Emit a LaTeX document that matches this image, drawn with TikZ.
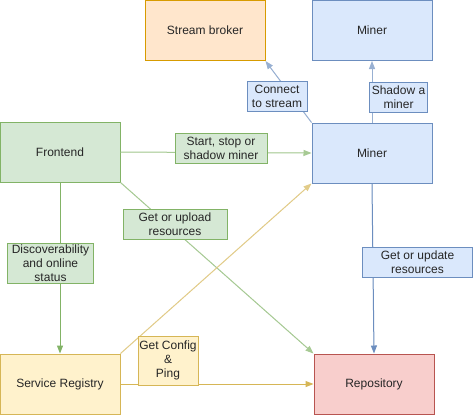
\documentclass[tikz,border=0pt]{standalone}
\usepackage{fontspec}
\setmainfont{Liberation Sans}
\usetikzlibrary{arrows.meta}
\definecolor{gfill}{HTML}{D5E8D4}\definecolor{gdraw}{HTML}{82B366}
\definecolor{bfill}{HTML}{DAE8FC}\definecolor{bdraw}{HTML}{6C8EBF}
\definecolor{ofill}{HTML}{FFE6CC}\definecolor{odraw}{HTML}{D79B00}
\definecolor{yfill}{HTML}{FFF2CC}\definecolor{ydraw}{HTML}{D6B656}
\definecolor{rfill}{HTML}{F8CECC}\definecolor{rdraw}{HTML}{B85450}
\begin{document}
\begin{tikzpicture}[x=0.75pt,y=-0.75pt,
  font=\fontsize{9pt}{10.5pt}\selectfont,
  box/.style={rectangle,minimum width=90pt,minimum height=45pt,line width=0.75pt,inner sep=0pt,text=black!85},
  lbl/.style={rectangle,line width=0.75pt,inner sep=0pt,align=center,text=black!85},
  conn/.style={line width=0.75pt,-{Triangle[length=6pt,width=4.5pt]}},
  gbox/.style={fill=gfill,draw=gdraw},
  bbox/.style={fill=bfill,draw=bdraw},
  obox/.style={fill=ofill,draw=odraw},
  ybox/.style={fill=yfill,draw=ydraw},
  rbox/.style={fill=rfill,draw=rdraw}]
\useasboundingbox (0,0) rectangle (474,415);
\fill[white] (0,0) rectangle (474,415);
% boxes
\node[box,obox] (sb) at (205,30.5) {Stream broker};
\node[box,bbox] (mt) at (372,30.5) {Miner};
\node[box,gbox] (fe) at (60,152) {Frontend};
\node[box,bbox] (mm) at (372,153) {Miner};
\node[box,ybox] (sr) at (60,384) {Service Registry};
\node[box,rbox] (rp) at (374,384) {Repository};
% connectors
\draw[conn,draw=bdraw!70,fill=bdraw] (mm.north west) -- (sb.south east);
\draw[conn,draw=bdraw!70,fill=bdraw] (mm.north) -- (mt.south);
\draw[conn,draw=gdraw!70,fill=gdraw] (fe.east) -- (mm.west);
\draw[conn,draw=gdraw!70,fill=gdraw] (fe.south east) -- (rp.north west);
\draw[conn,draw=gdraw,fill=gdraw] (fe.south) -- (sr.north);
\draw[conn,draw=ydraw!70,fill=ydraw] (sr.north east) -- (mm.south west);
\draw[conn,draw=ydraw,fill=ydraw] (sr.east) -- (rp.west);
\draw[conn,draw=bdraw,fill=bdraw] (mm.south) -- (rp.north);
% labels
\node[lbl,bbox,minimum width=45pt,minimum height=22.5pt] (l1) at (277,96) {Connect\\to stream};
\node[lbl,bbox,minimum width=44pt,minimum height=22.5pt] (l2) at (398.5,97) {Shadow a\\miner};
\node[lbl,gbox,minimum width=69pt,minimum height=22.5pt] (l3) at (221,148) {Start, stop or\\shadow miner};
\node[lbl,gbox,minimum width=78pt,minimum height=22.5pt] (l4) at (175,224) {Get or upload\\resources};
\node[lbl,gbox,minimum width=65pt,minimum height=30pt] (l5) at (50.5,263) {Discoverability\\and online\\status};
\node[lbl,bbox,minimum width=82pt,minimum height=22.5pt] (l6) at (417.5,262) {Get or update\\resources};
\node[lbl,ybox,minimum width=45pt,minimum height=36.75pt] (l7) at (168,360.5) {Get Config\\\&\\Ping};
\end{tikzpicture}
\end{document}
